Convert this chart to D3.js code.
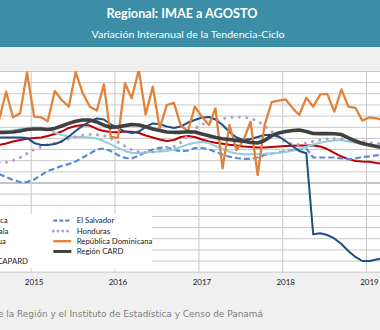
<!DOCTYPE html>
<html>
<head>
<meta charset="utf-8">
<script src="https://cdn.jsdelivr.net/npm/d3@7"></script>
<style>
body { margin: 0; background: #f0f0f0; }
svg { display: block; font-family: Lato, "Open Sans", sans-serif; }
</style>
</head>
<body>
<div id="chart"></div>
<script>
const WIDTH = 380;
const HEIGHT = 330;
const PLOT = {top: 71, bottom: 271.7};

// months Aug 2014 .. Mar 2019
const months = d3.timeMonth.range(new Date(2014, 7, 1), new Date(2019, 3, 1));
const yearLabels = ['2015', '2016', '2017', '2018', '2019'];

const costaRica = [3.36,3.5,3.68,3.81,3.93,
  3.99,4.04,4.17,4.35,4.57,4.89,5.07,5.16,5.11,4.8,4.62,4.53,
  4.5,4.57,4.55,4.44,4.22,4.04,3.86,3.72,3.81,4.08,4.17,4.08,
  3.86,3.68,3.57,3.47,3.38,3.32,3.23,3.18,3.14,3.14,3.18,3.23,
  3.27,3.3,3.32,3.32,3.32,3.23,3.0,2.65,2.33,2.1,1.93,1.88,
  1.87,1.75,1.66];
const elSalvador = [0.76,0.49,0.22,0.04,0.04,
  0.27,0.67,1.03,1.26,1.48,1.66,1.88,2.24,2.6,2.96,3.05,2.83,
  2.47,2.2,2.15,2.42,2.74,2.96,3.11,3.16,2.96,2.78,2.87,3.09,
  3.09,2.96,2.74,2.51,2.31,2.2,2.11,2.11,2.24,2.47,2.6,2.69,
  2.8,2.91,2.98,3.05,2.24,2.24,2.24,2.24,2.15,2.08,2.15,2.29,
  2.35,2.44,2.5];
const guatemala = [4.53,4.57,4.66,4.8,4.89,
  4.93,4.93,4.8,4.48,4.26,4.13,4.08,4.08,4.04,3.95,3.72,3.41,
  3.09,2.83,2.65,2.65,2.69,2.74,2.78,2.83,2.96,3.2,3.4,3.56,
  3.63,3.54,3.27,3.0,2.76,2.6,2.53,2.53,2.56,2.58,2.63,2.66,
  2.74,2.85,3.0,3.21,3.41,3.56,3.69,3.77,3.81,3.68,3.57,3.45,
  3.36,3.26,3.17];
const honduras = [1.8,1.81,1.97,2.24,2.6,
  2.96,3.2,3.41,3.54,3.7,3.92,4.11,4.24,4.3,4.28,4.2,3.95,
  3.63,3.27,2.93,2.74,2.68,2.74,2.91,3.07,3.21,3.59,4.22,4.84,
  5.2,5.43,5.56,5.74,5.83,5.89,5.87,5.74,5.52,5.07,4.57,4.04,
  3.68,3.41,3.41,3.54,3.68,3.81,3.9,3.92,3.9,3.79,3.72,3.68,
  3.59,3.5,3.42];
const nicaragua = [4.04,4.04,4.04,4.04,4.0,
  3.55,3.36,3.36,3.45,3.68,4.13,4.62,5.1,5.47,5.74,5.65,5.2,
  4.89,4.57,4.44,4.57,4.98,5.3,5.22,5.02,4.89,5.02,5.38,5.6,
  5.83,5.87,5.65,5.16,4.53,4.04,3.81,3.9,4.08,4.26,4.29,4.13,
  3.72,3.23,2.83,2.62,-4.65,-4.56,-4.71,-5.02,-5.52,-6.14,-6.68,-7.04,
  -7.04,-6.9,-6.77];
const repDominicana = [5.6,8.14,5.85,6.2,9.88,
  5.9,5.85,5.5,8.2,7.4,6.8,9.9,8.0,6.8,6.45,8.8,4.1,
  4.0,8.9,7.55,10.1,6.1,8.6,4.85,6.95,7.15,5.1,4.6,6.8,
  5.9,5.15,6.65,1.27,5.15,2.9,3.8,5.45,0.67,5.15,7.2,7.35,
  7.45,6.65,6.05,7.6,6.8,7.9,7.95,6.35,8.35,6.8,6.7,5.55,
  5.85,5.75,5.6];
const regionCARD = [4.5,4.5,4.53,4.62,4.75,
  4.8,4.8,4.75,4.85,5.07,5.3,5.5,5.6,5.6,5.43,5.15,4.93,
  5.0,5.1,5.2,5.15,5.0,4.8,4.66,4.53,4.5,4.5,4.55,4.53,
  4.35,4.2,4.03,3.93,3.85,3.77,3.7,3.6,3.54,3.77,4.2,4.44,
  4.57,4.66,4.7,4.57,4.4,4.38,4.38,4.37,4.3,4.0,3.72,3.5,
  3.36,3.23,3.1];

const series = [
  {name: 'Costa Rica', values: costaRica, color: '#c00000', width: 2},
  {name: 'El Salvador', values: elSalvador, color: '#558ed5', width: 2.2, dash: '6,3'},
  {name: 'Guatemala', values: guatemala, color: '#92cddc', width: 2},
  {name: 'Honduras', values: honduras, color: '#b3a2c7', width: 3, dash: '0.1,7.3', cap: 'round'},
  {name: 'Nicaragua', values: nicaragua, color: '#1f4e85', width: 2},
  {name: 'República Dominicana', values: repDominicana, color: '#e2823a', width: 2.3},
  {name: 'Panamá', values: null, color: '#9bbb59', width: 2},
  {name: 'Región CARD', values: regionCARD, color: '#404040', width: 3.6},
  {name: 'Región CAPARD', values: null, color: '#7f7f7f', width: 2}
];

const svg = d3.select('#chart').append('svg')
  .attr('width', WIDTH)
  .attr('height', HEIGHT);

svg.append('rect')
  .attr('width', WIDTH).attr('height', HEIGHT)
  .attr('fill', '#f0f0f0');

// title band
svg.append('rect')
  .attr('width', WIDTH).attr('height', 47)
  .attr('fill', '#3b8ea5');
svg.append('text')
  .attr('x', 182).attr('y', 18)
  .attr('text-anchor', 'middle')
  .attr('fill', 'white')
  .attr('font-size', 13.5).attr('font-weight', 'bold')
  .attr('textLength', 151).attr('lengthAdjust', 'spacingAndGlyphs')
  .text('Regional: IMAE a AGOSTO');
svg.append('text')
  .attr('x', 188).attr('y', 37.5)
  .attr('text-anchor', 'middle')
  .attr('fill', 'white')
  .attr('font-size', 9.3)
  .attr('textLength', 193).attr('lengthAdjust', 'spacingAndGlyphs')
  .text('Variación Interanual de la Tendencia-Ciclo');

const x = d3.scaleTime()
  .domain([new Date(2015, 0, 1), new Date(2019, 0, 1)])
  .range([30.7, 366]);
const y = d3.scaleLinear()
  .domain([-8, 10])
  .range([PLOT.bottom, PLOT.top]);
const xm = d => x(new Date(d.getFullYear(), d.getMonth(), 16));

// plot area
svg.append('rect')
  .attr('x', -100).attr('y', PLOT.top)
  .attr('width', WIDTH + 200).attr('height', PLOT.bottom - PLOT.top)
  .attr('fill', 'white');

let gy = svg.append('g')
  .attr('transform', 'translate(-60,0)')
  .call(d3.axisLeft(y).tickValues(d3.range(-8, 11)).tickSize(-600).tickFormat(''));
gy.select('.domain').remove();
gy.selectAll('line')
  .attr('stroke', d => d === 0 ? '#8c8c8c' : '#c8c8c8')
  .attr('stroke-width', 1);

let gx = svg.append('g')
  .attr('transform', `translate(0,${PLOT.bottom})`)
  .call(d3.axisBottom(x).ticks(d3.timeYear.every(1)).tickSize(-(PLOT.bottom - PLOT.top)).tickFormat(''));
gx.select('.domain').remove();
gx.selectAll('line').attr('stroke', '#c8c8c8').attr('stroke-width', 1);

svg.append('g').selectAll('text')
  .data(yearLabels)
  .join('text')
  .attr('x', d => x(new Date(+d, 0, 16)))
  .attr('y', 284.5)
  .attr('text-anchor', 'middle')
  .attr('font-size', 8)
  .attr('fill', '#1a1a1a')
  .text(d => d);

svg.append('clipPath').attr('id', 'clip')
  .append('rect')
  .attr('x', -100).attr('y', PLOT.top)
  .attr('width', WIDTH + 200).attr('height', PLOT.bottom - PLOT.top);

const line = d3.line()
  .x((d, i) => xm(months[i]))
  .y(d => y(d));

svg.append('g').attr('clip-path', 'url(#clip)')
  .selectAll('path')
  .data(series.filter(s => s.values))
  .join('path')
  .attr('d', s => line(s.values))
  .attr('fill', 'none')
  .attr('stroke', s => s.color)
  .attr('stroke-width', s => s.width)
  .attr('stroke-dasharray', s => s.dash || null)
  .attr('stroke-linecap', s => s.cap || 'butt')
  .attr('stroke-linejoin', 'round');

// legend (left column runs past the cropped left edge, as in the reference)
svg.append('rect')
  .attr('x', -120).attr('y', 214)
  .attr('width', 272).attr('height', 54)
  .attr('fill', 'white');

const legend = svg.append('g').selectAll('g')
  .data(series)
  .join('g')
  .attr('transform', (d, i) => `translate(${i % 2 ? 53.3 : -51.7},${220.7 + Math.floor(i / 2) * 10.25})`);
legend.append('line')
  .attr('x1', 0).attr('x2', 18)
  .attr('stroke', s => s.color)
  .attr('stroke-width', s => Math.min(s.width, 3))
  .attr('stroke-dasharray', s => s.dash ? (s.cap ? '0.1,4.6' : '4,2') : null)
  .attr('stroke-linecap', s => s.cap || 'butt');
legend.append('text')
  .attr('x', 23.4).attr('dy', '0.35em')
  .attr('font-size', 7.8)
  .attr('fill', '#1a1a1a')
  .text(s => s.name);

// source
svg.append('text')
  .attr('x', 263).attr('y', 317)
  .attr('text-anchor', 'end')
  .attr('font-family', '"DejaVu Sans", sans-serif')
  .attr('font-size', 8.95)
  .attr('fill', '#7f7f7f')
  .text('Fuente: SECMCA con base en información de los Bancos Centrales de la Región y el Instituto de Estadística y Censo de Panamá');
</script>
</body>
</html>
